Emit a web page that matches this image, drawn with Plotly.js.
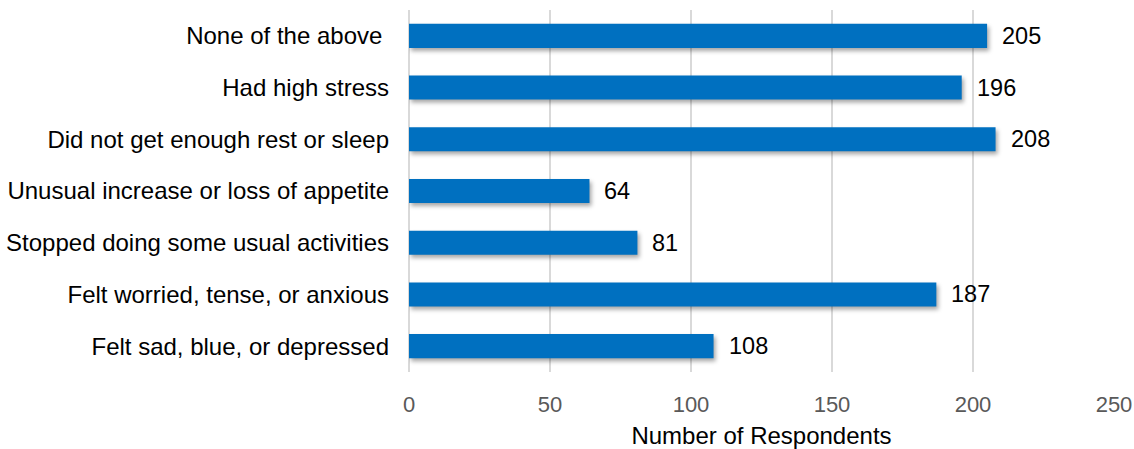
<!DOCTYPE html>
<html>
<head>
<meta charset="utf-8">
<script src="https://cdn.plot.ly/plotly-3.0.1.min.js"></script>
<style>
  html, body { margin: 0; padding: 0; background: #fff; }
  #chart { width: 1134px; height: 449px; }
  .barlayer .point path { filter: drop-shadow(2px 3px 2px rgba(0,0,0,0.35)); }
</style>
</head>
<body>
<div id="chart"></div>
<script>
// Symptoms reported, listed top to bottom
const categories = [
  "None of the above\u00a0",
  "Had high stress",
  "Did not get enough rest or sleep",
  "Unusual increase or loss of appetite",
  "Stopped doing some usual activities",
  "Felt worried, tense, or anxious",
  "Felt sad, blue, or depressed"
];
const respondents = [205, 196, 208, 64, 81, 187, 108];
const xTicks = [0, 50, 100, 150, 200, 250];

const font = "Liberation Sans, Arial, sans-serif";

const trace = {
  type: "bar",
  orientation: "h",
  x: respondents,
  y: categories,
  marker: { color: "#0070C0" },
  hoverinfo: "x+y"
};

// Value labels placed just past the end of each bar
const labels = respondents.map((v, i) => ({
  x: v,
  y: categories[i],
  xref: "x",
  yref: "y",
  text: String(v),
  showarrow: false,
  xanchor: "left",
  yanchor: "middle",
  xshift: 13,
  font: { family: font, size: 23.5, color: "#000" }
}));

const layout = {
  width: 1134,
  height: 449,
  margin: { l: 409, r: 20, t: 10, b: 77 },
  paper_bgcolor: "#fff",
  plot_bgcolor: "#fff",
  showlegend: false,
  bargap: 0.535,
  xaxis: {
    range: [0, 250],
    tickvals: xTicks,
    ticktext: xTicks.map(String),
    showgrid: true,
    gridcolor: "#d9d9d9",
    gridwidth: 1.5,
    zeroline: true,
    zerolinecolor: "#d9d9d9",
    zerolinewidth: 1.5,
    showline: false,
    ticks: "",
    ticklabelstandoff: 17,
    tickfont: { family: font, size: 22, color: "#595959" },
    title: {
      text: "Number of Respondents",
      font: { family: font, size: 24, color: "#000" },
      standoff: 14
    },
    automargin: false,
    fixedrange: true
  },
  yaxis: {
    type: "category",
    autorange: "reversed",
    showgrid: false,
    zeroline: false,
    showline: false,
    ticks: "",
    ticklabelstandoff: 19,
    tickfont: { family: font, size: 24, color: "#000" },
    automargin: false,
    fixedrange: true
  },
  annotations: labels
};

Plotly.newPlot("chart", [trace], layout, { displayModeBar: false, staticPlot: true });
</script>
</body>
</html>
